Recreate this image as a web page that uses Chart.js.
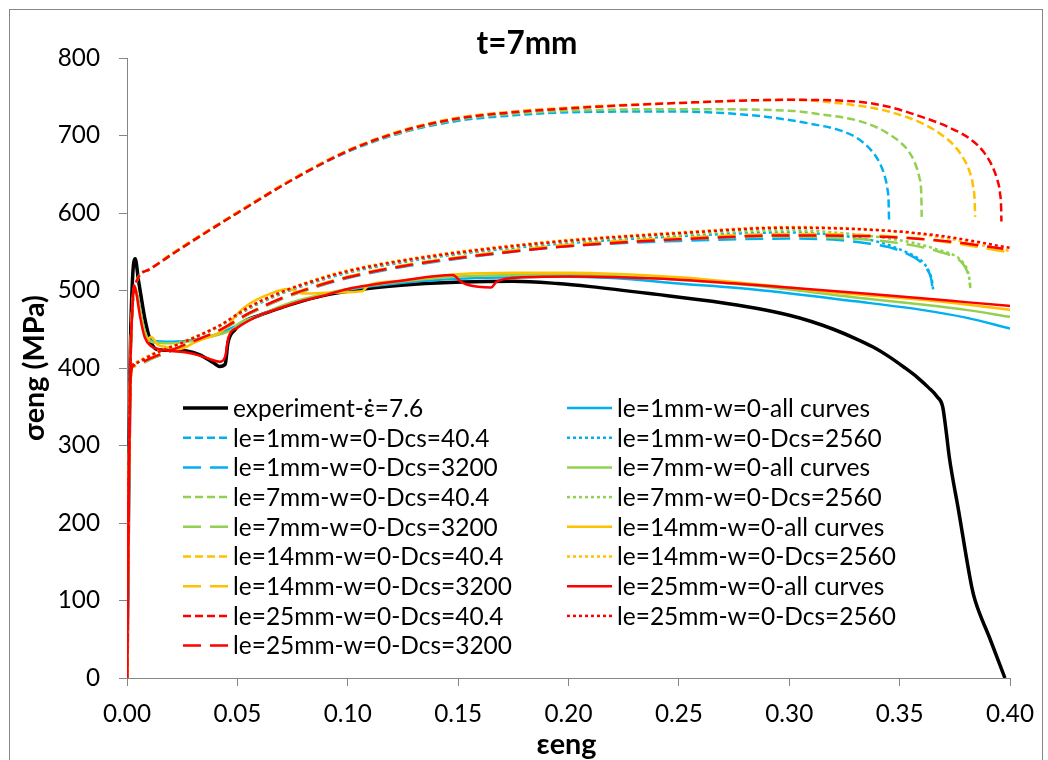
<!DOCTYPE html>
<html><head><meta charset="utf-8">
<script src="https://cdn.jsdelivr.net/npm/chart.js@4.4.1/dist/chart.umd.min.js"></script>
<style>
html,body{margin:0;padding:0;background:#fff;overflow:hidden;}
#wrap{position:relative;width:1048px;height:760px;}
#frame{position:absolute;left:9px;top:9px;width:1034px;height:800px;border:1px solid #868686;box-sizing:border-box;pointer-events:none;}
canvas{position:absolute;left:0;top:0;}
</style></head><body>
<div id="wrap"><canvas id="c" width="1048" height="760"></canvas><div id="frame"></div></div>
<script>
// ---------- DATA ----------
const chartTitle = 't=7mm';
const xTitle = 'εeng';
const yTitle = 'σeng (MPa)';
const xTickValues = [0, 0.05, 0.10, 0.15, 0.20, 0.25, 0.30, 0.35, 0.40];
const yTickValues = [0, 100, 200, 300, 400, 500, 600, 700, 800];

const experiment = [[0,0],[0.0008,250],[0.0015,420],[0.0025,515],[0.0037,541],[0.0052,513],[0.0068,485],[0.0082,462],[0.0105,436],[0.0135,424],[0.02,423],[0.027,422],[0.033,417],[0.039,407],[0.042,402],[0.0445,405],[0.0457,432],[0.0488,449],[0.052,458],[0.06,468],[0.07,478],[0.08,487],[0.0915,495],[0.11,503],[0.13,508],[0.1516,511],[0.175,512],[0.195,509],[0.21,505],[0.24,495],[0.265,486],[0.285,477],[0.30,468],[0.31,460],[0.32,450],[0.33,438],[0.338,427],[0.345,415],[0.352,401],[0.358,388],[0.363,375],[0.367,363],[0.3695,350],[0.371,320],[0.3725,285],[0.3767,216],[0.3827,117],[0.3842,100],[0.391,50],[0.3977,0]];

const le1_all = [[0,0],[0.0008,250],[0.0015,400],[0.0025,480],[0.0035,503],[0.005,490],[0.007,460],[0.009,440],[0.012,435],[0.02,434],[0.03,436],[0.04,443],[0.05,455],[0.06,468],[0.07,479],[0.08,488],[0.09,495],[0.10,501],[0.125,510],[0.15,515],[0.175,517],[0.195,518],[0.22,516],[0.25,509],[0.285,501],[0.33,486],[0.36,475],[0.38,465],[0.40,451]];
const le1_d40 = [[0,0],[0.0008,250],[0.0015,400],[0.0025,480],[0.0045,513],[0.01,527],[0.02,546],[0.0375,578],[0.05,600],[0.075,643],[0.10,679],[0.125,704],[0.15,719],[0.175,726],[0.2,730],[0.25,731],[0.27,729],[0.29,724],[0.30,720],[0.31,715],[0.3226,707],[0.33,698],[0.3347,688],[0.3385,676],[0.3414,662],[0.3433,647],[0.3444,632],[0.345,615],[0.3452,591]];
const le1_d2560 = [[0,0],[0.001,300],[0.002,400],[0.003,405],[0.012,418],[0.027,435],[0.042,454],[0.0555,477],[0.07,496],[0.084,510],[0.10,523],[0.126,537],[0.15,547],[0.195,560],[0.25,570],[0.30,575],[0.3226,571],[0.34,563],[0.351,552],[0.357,544],[0.361,535],[0.3635,523],[0.3647,512],[0.3652,500]];
const le1_d3200 = [[0,0],[0.001,300],[0.002,398],[0.003,402],[0.012,413],[0.027,430],[0.042,448],[0.0555,470],[0.07,489],[0.084,503],[0.10,516],[0.126,531],[0.15,541],[0.195,556],[0.25,564],[0.30,567],[0.3226,565],[0.335,561],[0.345,556],[0.353,548],[0.359,538],[0.3625,527],[0.3643,515],[0.365,500]];

const le7_all = [[0,0],[0.0008,250],[0.0015,400],[0.0025,480],[0.0035,502],[0.005,488],[0.007,458],[0.009,440],[0.012,433],[0.02,432],[0.03,435],[0.04,442],[0.045,446],[0.048,450],[0.05,456],[0.06,468],[0.07,480],[0.08,489],[0.09,496],[0.10,502],[0.125,512],[0.15,518],[0.175,520],[0.2,520],[0.25,514],[0.285,506],[0.33,491],[0.36,482],[0.38,475],[0.40,466]];
const le7_d40 = [[0,0],[0.0008,250],[0.0015,400],[0.0025,480],[0.0045,513],[0.01,527],[0.02,546],[0.0375,578],[0.05,600],[0.075,643],[0.10,680],[0.125,705],[0.15,721],[0.175,728],[0.2,732],[0.25,734],[0.30,732],[0.315,727],[0.33,720],[0.34,710],[0.345,702],[0.35,692],[0.354,680],[0.357,664],[0.359,645],[0.3598,625],[0.360,595]];
const le7_d2560 = [[0,0],[0.001,300],[0.002,400],[0.003,405],[0.012,418],[0.027,435],[0.042,454],[0.0555,478],[0.07,497],[0.084,511],[0.10,524],[0.126,538],[0.15,548],[0.195,562],[0.25,572],[0.30,578],[0.32,575],[0.3377,570],[0.35,565],[0.36,559],[0.368,552],[0.375,545],[0.3785,537],[0.3808,525],[0.3817,513],[0.382,505]];
const le7_d3200 = [[0,0],[0.001,300],[0.002,398],[0.003,402],[0.012,413],[0.027,430],[0.042,448],[0.0555,470],[0.07,489],[0.084,503],[0.10,517],[0.126,532],[0.15,542],[0.195,557],[0.25,566],[0.30,570],[0.32,568],[0.3377,565],[0.35,561],[0.36,556],[0.368,550],[0.375,543],[0.3785,535],[0.3808,523],[0.3817,512],[0.382,503]];

const le14_all = [[0,0],[0.0008,250],[0.0015,400],[0.0025,485],[0.0037,505],[0.005,485],[0.007,455],[0.009,437],[0.011,440],[0.014,430],[0.018,427],[0.022,424],[0.026,426],[0.03,432],[0.035,438],[0.04,443],[0.045,452],[0.05,470],[0.055,482],[0.065,496],[0.073,502],[0.08,496],[0.09,497],[0.1065,499],[0.1095,507],[0.1216,512],[0.15,521],[0.175,523],[0.2,523],[0.25,517],[0.285,508],[0.33,495],[0.36,488],[0.38,482],[0.40,475]];
const le14_d40 = [[0,0],[0.0008,250],[0.0015,400],[0.0025,480],[0.0045,513],[0.01,527],[0.02,547],[0.0375,579],[0.05,601],[0.075,644],[0.10,681],[0.125,707],[0.15,723],[0.175,731],[0.2,736],[0.25,742],[0.30,746],[0.33,739],[0.345,731],[0.36,716],[0.368,703],[0.375,686],[0.379,670],[0.3815,655],[0.3832,636],[0.384,615],[0.3842,595]];
const le14_d2560 = [[0,0],[0.001,300],[0.002,400],[0.003,406],[0.012,419],[0.027,436],[0.042,455],[0.0555,479],[0.07,498],[0.084,513],[0.10,526],[0.126,540],[0.15,550],[0.195,564],[0.25,575],[0.30,582],[0.345,577],[0.37,568],[0.40,551]];
const le14_d3200 = [[0,0],[0.001,300],[0.002,398],[0.003,402],[0.012,414],[0.027,431],[0.042,449],[0.0555,471],[0.07,490],[0.084,505],[0.10,518],[0.126,533],[0.15,543],[0.195,558],[0.25,568],[0.30,573],[0.345,570],[0.37,563],[0.40,549]];

const le25_all = [[0,0],[0.0008,250],[0.0015,400],[0.0025,480],[0.003,507],[0.004,500],[0.006,465],[0.008,440],[0.011,428],[0.015,424],[0.02,422],[0.027,420],[0.033,416],[0.038,411],[0.042,408],[0.0445,415],[0.046,440],[0.05,452],[0.06,468],[0.07,478],[0.08,487],[0.09,494],[0.10,502],[0.125,513],[0.1475,520],[0.1515,511],[0.1546,507],[0.165,504],[0.1673,511],[0.174,516],[0.2,518],[0.25,514],[0.285,507],[0.33,497],[0.36,490],[0.38,485],[0.40,480]];
const le25_d40 = [[0,0],[0.0008,250],[0.0015,400],[0.0025,480],[0.0045,513],[0.01,527],[0.02,546],[0.0375,578],[0.05,600],[0.075,643],[0.10,680],[0.125,706],[0.15,722],[0.175,730],[0.2,735],[0.25,742],[0.30,746],[0.33,744],[0.345,737],[0.36,724],[0.372,711],[0.3827,694],[0.388,679],[0.3917,662],[0.394,645],[0.3955,625],[0.396,605],[0.3961,589]];
const le25_d2560 = [[0,0],[0.001,300],[0.002,400],[0.003,405],[0.012,418],[0.027,435],[0.042,455],[0.0555,479],[0.07,498],[0.084,512],[0.10,525],[0.126,539],[0.15,549],[0.195,563],[0.25,574],[0.30,581],[0.345,577],[0.37,570],[0.40,555]];
const le25_d3200 = [[0,0],[0.001,300],[0.002,398],[0.003,403],[0.012,414],[0.027,431],[0.042,449],[0.0555,471],[0.07,490],[0.084,504],[0.10,517],[0.126,532],[0.15,542],[0.195,556],[0.25,566],[0.30,571],[0.345,569],[0.37,564],[0.397,554]];

const seriesLabels = ['experiment-ε̇=7.6',
  'le=1mm-w=0-all curves','le=1mm-w=0-Dcs=40.4','le=1mm-w=0-Dcs=2560','le=1mm-w=0-Dcs=3200',
  'le=7mm-w=0-all curves','le=7mm-w=0-Dcs=40.4','le=7mm-w=0-Dcs=2560','le=7mm-w=0-Dcs=3200',
  'le=14mm-w=0-all curves','le=14mm-w=0-Dcs=40.4','le=14mm-w=0-Dcs=2560','le=14mm-w=0-Dcs=3200',
  'le=25mm-w=0-all curves','le=25mm-w=0-Dcs=40.4','le=25mm-w=0-Dcs=2560','le=25mm-w=0-Dcs=3200'];
const seriesData = [experiment,
  le1_all, le1_d40, le1_d2560, le1_d3200,
  le7_all, le7_d40, le7_d2560, le7_d3200,
  le14_all, le14_d40, le14_d2560, le14_d3200,
  le25_all, le25_d40, le25_d2560, le25_d3200];

// ---------- STYLE ----------
const FAM = 'Lato, "Open Sans", sans-serif';
const groupColors = ['#00B0F0', '#92D050', '#FFC000', '#FF0000'];
const dashKinds = [[], [8, 4], [3, 3], [18, 9]];

const mctx = document.createElement('canvas').getContext('2d');
function fitSize(text, weight, targetW) {
  mctx.font = `${weight} 100px ${FAM}`;
  return 100 * targetW / mctx.measureText(text).width;
}
const tickSize = fitSize('0.00', 'normal', 48);
const legendSize = fitSize('le=14mm-w=0-Dcs=2560', 'normal', 279);
const titleSize = fitSize(chartTitle, 'bold', 101);
const axTitleSize = fitSize(xTitle, 'bold', 60);

const datasets = seriesData.map((arr, i) => {
  const isExp = i === 0;
  const color = isExp ? '#000000' : groupColors[Math.floor((i - 1) / 4)];
  const dash = isExp ? [] : dashKinds[(i - 1) % 4];
  return {
    label: seriesLabels[i],
    data: arr.map(p => ({x: p[0], y: p[1]})),
    borderColor: color,
    backgroundColor: color,
    borderWidth: isExp ? 3.5 : 2.5,
    borderDash: dash,
    borderCapStyle: 'butt',
    pointRadius: 0,
    fill: false,
    cubicInterpolationMode: 'monotone',
    order: seriesData.length - 1 - i
  };
});

const LEG = {x1: 183, x2: 567, sample: 45, gap: 5, top: 408, row: 29.7};

const overlay = {
  id: 'overlay',
  afterDraw(chart) {
    const ctx = chart.ctx;
    const ca = chart.chartArea;
    ctx.save();
    ctx.fillStyle = '#000';
    ctx.textAlign = 'center';
    ctx.textBaseline = 'middle';
    ctx.font = `bold ${titleSize}px ${FAM}`;
    ctx.fillText(chartTitle, 527, 44);
    ctx.font = `bold ${axTitleSize}px ${FAM}`;
    ctx.fillText(xTitle, (ca.left + ca.right) / 2 - 2, 745);
    ctx.save();
    ctx.translate(35, (ca.top + ca.bottom) / 2);
    ctx.rotate(-Math.PI / 2);
    ctx.fillText(yTitle, 0, 0);
    ctx.restore();
    // legend
    ctx.textAlign = 'left';
    ctx.font = `${legendSize}px ${FAM}`;
    chart.data.datasets.forEach((ds, i) => {
      const col = i % 2, row = Math.floor(i / 2);
      const y = LEG.top + row * LEG.row;
      const x0 = col === 0 ? LEG.x1 : LEG.x2;
      ctx.beginPath();
      ctx.strokeStyle = ds.borderColor;
      ctx.lineWidth = ds.borderWidth;
      ctx.setLineDash(ds.borderDash || []);
      ctx.moveTo(x0, y);
      ctx.lineTo(x0 + LEG.sample, y);
      ctx.stroke();
      ctx.setLineDash([]);
      ctx.fillStyle = '#000';
      ctx.fillText(ds.label, x0 + LEG.sample + LEG.gap, y + 1);
    });
    ctx.restore();
  }
};

new Chart(document.getElementById('c'), {
  type: 'line',
  data: {datasets},
  options: {
    responsive: false,
    animation: false,
    devicePixelRatio: 1,
    layout: {padding: {left: 0, top: 58, right: 33, bottom: 0}},
    plugins: {legend: {display: false}, title: {display: false}, tooltip: {enabled: false}},
    scales: {
      x: {
        type: 'linear', min: 0, max: 0.4,
        afterBuildTicks: s => { s.ticks = xTickValues.map(v => ({value: v})); },
        afterFit: s => { s.height = 82; },
        ticks: {callback: v => Number(v).toFixed(2), font: {family: FAM, size: tickSize}, color: '#000', padding: 14, maxRotation: 0, autoSkip: false},
        grid: {drawOnChartArea: false, drawTicks: true, tickLength: 8, color: '#868686'},
        border: {display: true, color: '#868686', width: 1}
      },
      y: {
        type: 'linear', min: 0, max: 800,
        afterBuildTicks: s => { s.ticks = yTickValues.map(v => ({value: v})); },
        afterFit: s => { s.width = 127; },
        ticks: {font: {family: FAM, size: tickSize}, color: '#000', padding: 19},
        grid: {drawOnChartArea: false, drawTicks: true, tickLength: 8, color: '#868686'},
        border: {display: true, color: '#868686', width: 1}
      }
    }
  },
  plugins: [overlay]
});
</script>
</body></html>
